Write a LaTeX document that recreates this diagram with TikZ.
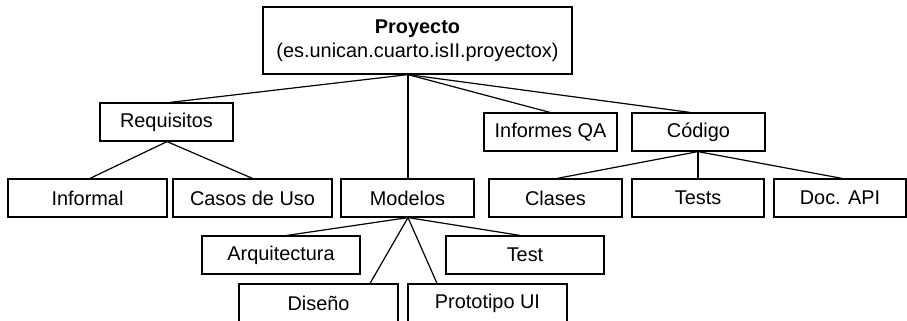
\documentclass[tikz,border=0pt]{standalone}
\usepackage{fontspec}
\setmainfont{Liberation Sans}
\begin{document}
\begin{tikzpicture}[x=1pt,y=-1pt,
  box/.style={draw=black,line width=1.2pt,inner sep=0pt,minimum height=38pt,font=\fontsize{19.9}{24}\selectfont,align=center},
  link/.style={draw=black,line width=1.2pt}]
\useasboundingbox (0,0) rectangle (907,321);
\clip (0,0) rectangle (907,321);
\node[box,minimum width=309pt,minimum height=67pt] (p) at (417.5,40.5) {\textbf{Proyecto}\\(es.unican.cuarto.isII.proyectox)};
\node[box,minimum width=133pt] (req) at (166.5,122) {Requisitos};
\node[box,minimum width=159pt] (inf) at (87.5,198) {Informal};
\node[box,minimum width=159pt] (cas) at (252.5,198) {Casos de Uso};
\node[box,minimum width=133pt] (mod) at (407.5,198) {Modelos};
\node[box,minimum width=133pt] (qa) at (550.5,132) {Informes QA};
\node[box,minimum width=133pt] (cod) at (698.5,132) {Código};
\node[box,minimum width=133pt] (cla) at (555.5,198) {Clases};
\node[box,minimum width=132pt] (tes) at (698,198) {Tests};
\node[box,minimum width=132pt] (doc) at (840,198) {Doc. API};
\node[box,minimum width=158pt] (arq) at (281,255) {Arquitectura};
\node[box,minimum width=158pt] (tst) at (525,255) {Test};
\node[box,minimum width=159pt] (dis) at (318.5,303) {Diseño};
\node[box,minimum width=159pt] (pro) at (487.5,303) {Prototipo UI};
\draw[link] ([xshift=-9.5pt]p.south) -- ([xshift=3.5pt]req.north);
\draw[link] ([xshift=-9.5pt]p.south) -- ([xshift=0.5pt]mod.north);
\draw[link] ([xshift=-9.5pt]p.south) -- ([xshift=-0.5pt]qa.north);
\draw[link] ([xshift=-9.5pt]p.south) -- ([xshift=-8.5pt]cod.north);
\draw[link] ([xshift=0.5pt]req.south) -- ([xshift=2.5pt]inf.north);
\draw[link] ([xshift=0.5pt]req.south) -- (cas.north);
\draw[link] ([xshift=-0.5pt]cod.south) -- ([xshift=1.5pt]cla.north);
\draw[link] ([xshift=-0.5pt]cod.south) -- (tes.north);
\draw[link] ([xshift=-0.5pt]cod.south) -- ([xshift=2pt]doc.north);
\draw[link] ([xshift=0.5pt]mod.south) -- ([xshift=6pt]arq.north);
\draw[link] ([xshift=0.5pt]mod.south) -- ([xshift=-5pt]tst.north);
\draw[link] ([xshift=0.5pt]mod.south) -- ([xshift=51.5pt]dis.north);
\draw[link] ([xshift=0.5pt]mod.south) -- ([xshift=-50.5pt]pro.north);
\end{tikzpicture}
\end{document}
